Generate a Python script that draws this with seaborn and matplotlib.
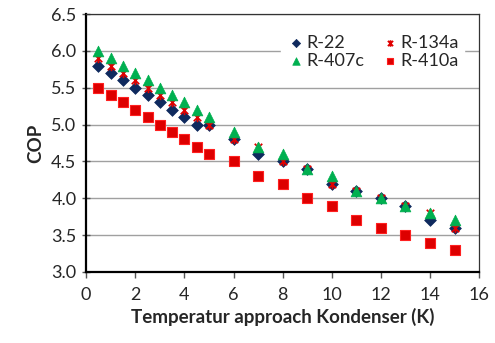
import numpy as np
import pandas as pd
import matplotlib
matplotlib.use("Agg")
import matplotlib.pyplot as plt
from matplotlib.path import Path
import seaborn as sns

sns.set_style("white")
plt.rcParams['font.family'] = ['Lato', 'DejaVu Sans']

x_vals = [0.5, 1, 1.5, 2, 2.5, 3, 3.5, 4, 4.5, 5, 6, 7, 8, 9, 10, 11, 12, 13, 14, 15]
r22   = [5.8, 5.7, 5.6, 5.5, 5.4, 5.3, 5.2, 5.1, 5.0, 5.0, 4.8, 4.6, 4.5, 4.4, 4.2, 4.1, 4.0, 3.9, 3.7, 3.6]
r134a = [5.9, 5.8, 5.7, 5.6, 5.5, 5.4, 5.3, 5.2, 5.1, 5.0, 4.8, 4.7, 4.5, 4.4, 4.2, 4.1, 4.0, 3.9, 3.8, 3.6]
r407c = [6.0, 5.9, 5.8, 5.7, 5.6, 5.5, 5.4, 5.3, 5.2, 5.1, 4.9, 4.7, 4.6, 4.4, 4.3, 4.1, 4.0, 3.9, 3.8, 3.7]
r410a = [5.5, 5.4, 5.3, 5.2, 5.1, 5.0, 4.9, 4.8, 4.7, 4.6, 4.5, 4.3, 4.2, 4.0, 3.9, 3.7, 3.6, 3.5, 3.4, 3.3]
names = ["R-22", "R-134a", "R-407c", "R-410a"]
x_ticks = [0, 2, 4, 6, 8, 10, 12, 14, 16]
y_ticks = [3.0, 3.5, 4.0, 4.5, 5.0, 5.5, 6.0, 6.5]

star = Path([(-1, -1), (1, 1), (-1, 1), (1, -1), (0, -1.25), (0, 1.25)],
            [Path.MOVETO, Path.LINETO, Path.MOVETO, Path.LINETO, Path.MOVETO, Path.LINETO])

styles = {
    "R-22":   dict(marker="D", color="#0F2A5E", s=36, edgecolor="#0F2A5E", linewidth=0.5),
    "R-134a": dict(marker=star, color="#E00000", s=45, edgecolor="#E00000", linewidth=1.3),
    "R-407c": dict(marker="^", color="#00B050", s=60, edgecolor="#00B050", linewidth=0.5),
    "R-410a": dict(marker="s", color="#DD0000", s=42, edgecolor="#FF2020", linewidth=0.8),
}

fig = plt.figure(figsize=(4.95, 3.43), dpi=100)
ax = fig.add_axes([0.174, 0.207, 0.794, 0.752])

for name, vals in zip(names, [r22, r134a, r407c, r410a]):
    df = pd.DataFrame({"x": x_vals, "y": vals})
    sns.scatterplot(data=df, x="x", y="y", ax=ax, label=name, zorder=3, **styles[name])

ax.set_xlim(0, 16)
ax.set_ylim(3.0, 6.5)
ax.set_xticks(x_ticks)
ax.set_xticklabels([str(t) for t in x_ticks])
ax.set_yticks(y_ticks)
ax.set_yticklabels([f"{t:.1f}" for t in y_ticks])
ax.yaxis.grid(True, color="#a0a0a0", linewidth=1.0, zorder=0)
ax.xaxis.grid(False)
ax.set_axisbelow(True)

for side in ["left", "bottom"]:
    ax.spines[side].set_color("black")
    ax.spines[side].set_linewidth(1.6)
for side in ["top", "right"]:
    ax.spines[side].set_color("#333333")
    ax.spines[side].set_linewidth(0.9)

ax.tick_params(axis="x", direction="out", length=4, width=1, color="#555555",
               labelsize=13, pad=7, bottom=True)
ax.tick_params(axis="y", direction="inout", length=6, width=1, color="#555555",
               labelsize=13, pad=4, left=True)

ax.set_xlabel("Temperatur approach Kondenser (K)", fontsize=13.5, fontweight="bold", labelpad=3)
ax.set_ylabel("COP", fontsize=13.5, fontweight="bold", labelpad=5)

handles, labels = ax.get_legend_handles_labels()
order = [0, 2, 1, 3]
leg = ax.legend([handles[i] for i in order], [labels[i] for i in order], ncol=2,
                loc="upper right", bbox_to_anchor=(0.985, 0.975), frameon=True,
                fontsize=13, handletextpad=0.1, columnspacing=0.9, markerscale=0.7,
                labelspacing=0.1, borderpad=0.3, handlelength=1.0)
leg.get_frame().set_edgecolor("white")
leg.get_frame().set_facecolor("white")
leg.get_frame().set_alpha(1)

fig.savefig("out.png", dpi=100)
